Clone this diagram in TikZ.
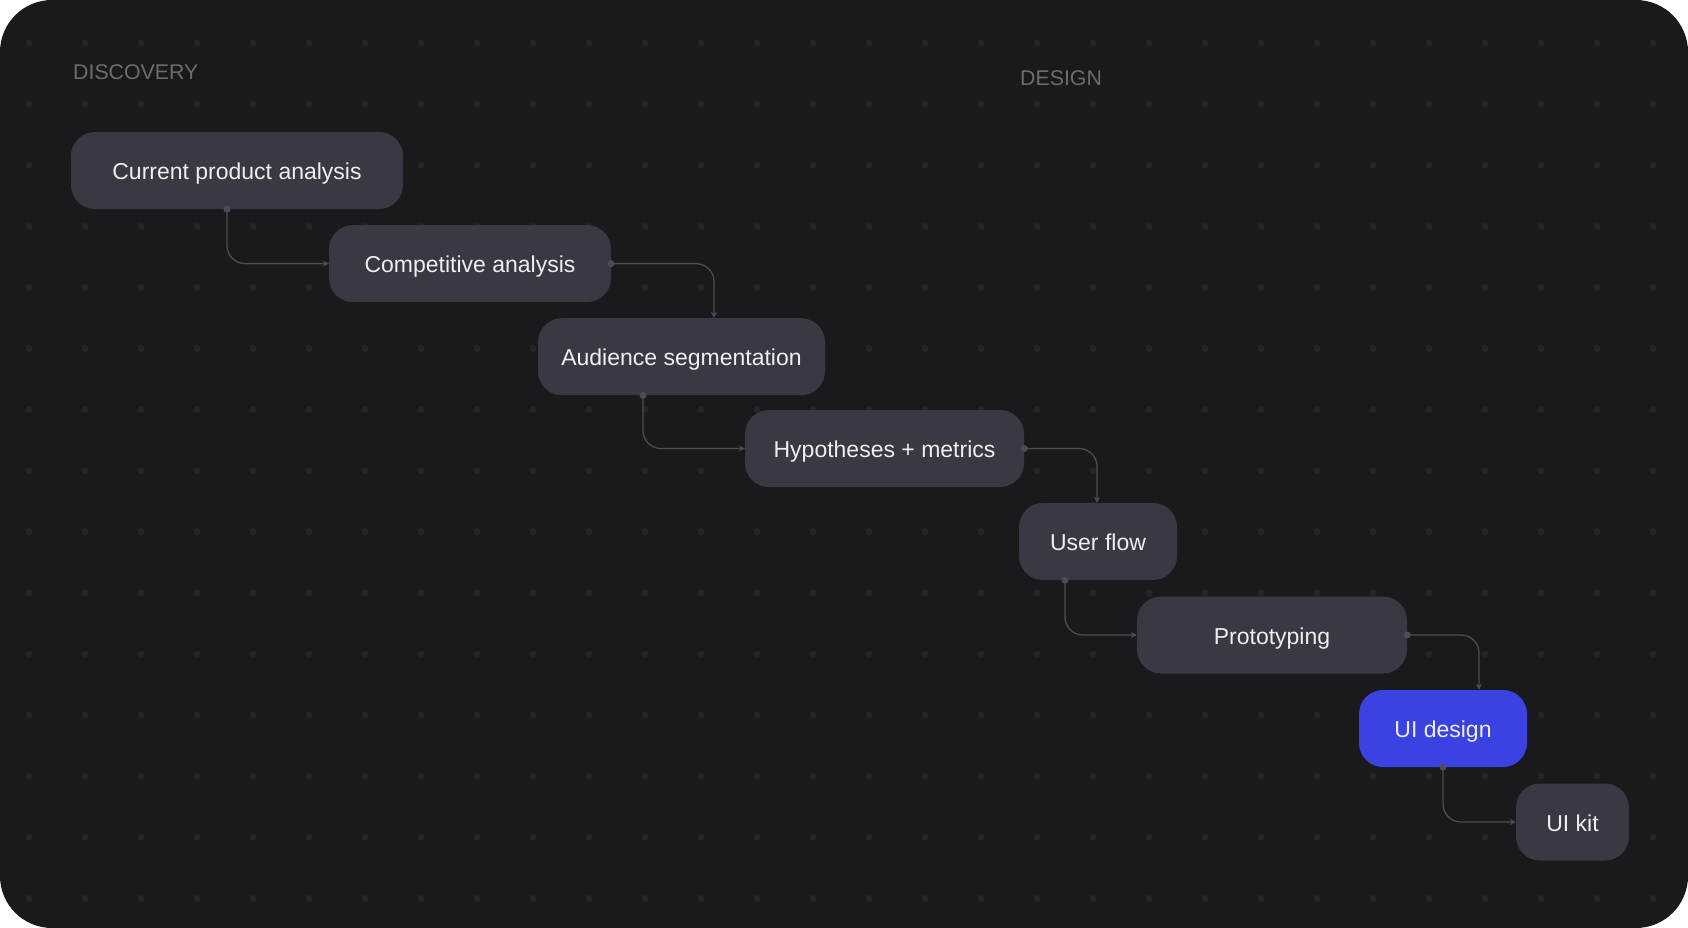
\documentclass[tikz,border=0pt]{standalone}
\usepackage{fontspec}
\setmainfont{Liberation Sans}
\usetikzlibrary{arrows.meta}
\definecolor{bgc}{HTML}{1A1A1C}
\definecolor{dotc}{HTML}{252528}
\definecolor{boxc}{HTML}{393944}
\definecolor{bluec}{HTML}{3B42E2}
\definecolor{txtc}{HTML}{EEEEF0}
\definecolor{labc}{HTML}{6C6C6E}
\definecolor{linec}{HTML}{4C4C54}
\tikzset{
  stepnode/.style={rounded corners=24pt, fill=boxc, minimum height=77pt, text=txtc,
    font=\fontsize{23}{27}\selectfont, text height=18.5pt, text depth=0pt, inner sep=0pt},
  phase/.style={text=labc, font=\fontsize{21.3}{25}\selectfont, inner sep=0pt, anchor=base west},
  conn/.style={draw=linec, line width=1.3pt, rounded corners=18pt, -{Stealth[length=6pt,width=6pt]}},
  startdot/.style={fill=linec}
}
\begin{document}
\begin{tikzpicture}[x=1pt,y=-1pt]
\useasboundingbox (0,0) rectangle (1688,928);
\fill[white] (0,0) rectangle (1688,928);
\fill[bgc, rounded corners=52pt] (0,0) rectangle (1688,928);
\foreach \i in {0,...,29}{\foreach \j in {0,...,14}{\fill[dotc] ({29+56*\i},{43+61.1*\j}) circle (3.5pt);}}

\node[phase] (disc) at (73,80) {DISCOVERY};
\node[phase] (des) at (1020,86) {DESIGN};

\node[stepnode, minimum width=332pt] (n1) at (237,170.5) {Current product analysis};
\node[stepnode, minimum width=282pt] (n2) at (470,263.6) {Competitive analysis};
\node[stepnode, minimum width=287pt] (n3) at (681.5,356.7) {Audience segmentation};
\node[stepnode, minimum width=279pt] (n4) at (884.5,448.5) {Hypotheses + metrics};
\node[stepnode, minimum width=158pt] (n5) at (1098,541.5) {User flow};
\node[stepnode, minimum width=270pt] (n6) at (1272,635) {Prototyping};
\node[stepnode, fill=bluec, minimum width=168pt] (n7) at (1443,728.5) {UI design};
\node[stepnode, minimum width=113pt] (n8) at (1572.5,822) {UI kit};

\draw[conn] ([xshift=-10pt]n1.south) |- (n2.west);
\fill[startdot] ([xshift=-10pt]n1.south) circle (3.5pt);
\draw[conn] (n2.east) -| ([xshift=32.5pt]n3.north);
\fill[startdot] (n2.east) circle (3.5pt);
\draw[conn] ([xshift=-38.5pt]n3.south) |- (n4.west);
\fill[startdot] ([xshift=-38.5pt]n3.south) circle (3.5pt);
\draw[conn] (n4.east) -| ([xshift=-1pt]n5.north);
\fill[startdot] (n4.east) circle (3.5pt);
\draw[conn] ([xshift=-33pt]n5.south) |- (n6.west);
\fill[startdot] ([xshift=-33pt]n5.south) circle (3.5pt);
\draw[conn] (n6.east) -| ([xshift=36pt]n7.north);
\fill[startdot] (n6.east) circle (3.5pt);
\draw[conn] (n7.south) |- (n8.west);
\fill[startdot] (n7.south) circle (3.5pt);
\end{tikzpicture}
\end{document}
